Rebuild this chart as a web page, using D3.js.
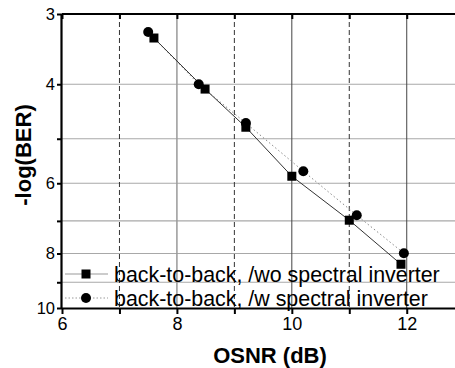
<!DOCTYPE html>
<html>
<head>
<meta charset="utf-8">
<script src="https://cdn.jsdelivr.net/npm/d3@7"></script>
<style>
  body { margin: 0; background: #fff; }
  svg { display: block; font-family: "Liberation Sans", Arial, sans-serif; }
</style>
</head>
<body>
<svg id="plot" width="455" height="368"></svg>
<script>
// OSNR (dB) on x, -log(BER) on a log axis
const osnr_wo = [7.6, 8.49, 9.2, 10.0, 11.0, 11.9];
const ber_wo = [3.31, 4.08, 4.77, 5.83, 6.98, 8.36];
const osnr_w = [7.5, 8.38, 9.2, 10.2, 11.13, 11.95];
const ber_w = [3.23, 4.0, 4.69, 5.71, 6.84, 7.99];
const x_ticks = [6, 7, 8, 9, 10, 11, 12];
const y_ticks = [3, 4, 5, 6, 7, 8, 9, 10];
const y_labels = [3, 4, 6, 8, 10];
const series_names = ["back-to-back, /wo spectral inverter", "back-to-back, /w spectral inverter"];

const svg = d3.select("#plot");
const m_left = 62, m_top = 14, m_bottom = 308, m_right = 455;

const x = d3.scaleLinear().domain([6, 12.84]).range([m_left, m_right]);
const y = d3.scaleLog().domain([3, 10]).range([m_top, m_bottom]);

// grid lines
svg.append("g").selectAll("line").data(y_ticks.filter(d => d > 3 && d < 10)).enter()
  .append("line")
  .attr("x1", m_left).attr("x2", m_right)
  .attr("y1", d => y(d)).attr("y2", d => y(d))
  .attr("stroke", "#a8a8a8").attr("stroke-width", 1.2);

svg.append("g").selectAll("line").data(x_ticks.filter(d => d > 6)).enter()
  .append("line")
  .attr("x1", d => x(d)).attr("x2", d => x(d))
  .attr("y1", m_top).attr("y2", m_bottom)
  .attr("stroke", d => d % 2 ? "#333" : (d == 8 ? "#999" : "#444"))
  .attr("stroke-width", d => d == 8 ? 1.5 : 1)
  .attr("stroke-dasharray", d => d % 2 ? "5,3" : null);

// axes
const font_y = 16.5, font_x = 18;
const ax_left = svg.append("g").attr("transform", `translate(${m_left},0)`)
  .call(d3.axisLeft(y).tickValues(y_ticks).tickSize(5).tickPadding(2)
    .tickFormat(d => y_labels.includes(d) ? d : ""));
const ax_bottom = svg.append("g").attr("transform", `translate(0,${m_bottom})`)
  .call(d3.axisBottom(x).tickValues(x_ticks).tickSize(6).tickPadding(3)
    .tickFormat(d => d % 2 ? "" : d));
const ax_top = svg.append("g").attr("transform", `translate(0,${m_top})`)
  .call(d3.axisBottom(x).tickValues(x_ticks).tickSize(5).tickFormat(""));

for (const ax of [ax_left, ax_bottom, ax_top]) {
  ax.select(".domain").attr("stroke", "#000").attr("stroke-width", 2.2);
  ax.selectAll(".tick line").attr("stroke", "#000").attr("stroke-width", 2);
  ax.selectAll("text").attr("fill", "#000").attr("font-family", "Liberation Sans, Arial, sans-serif");
}
ax_left.select(".domain").attr("d", `M-0.5,${m_top}V${m_bottom}`);
ax_bottom.select(".domain").attr("d", `M${m_left},0.5H${m_right}`);
ax_top.select(".domain").attr("d", `M${m_left},0H${m_right}`);
ax_left.selectAll("text").attr("font-size", font_y);
ax_bottom.selectAll("text").attr("font-size", font_x);

// axis titles
svg.append("text").attr("x", 270).attr("y", 363)
  .attr("text-anchor", "middle").attr("font-weight", "bold").attr("font-size", 22)
  .text("OSNR (dB)");
svg.append("text").attr("transform", "translate(31,155) rotate(-90)")
  .attr("text-anchor", "middle").attr("font-weight", "bold").attr("font-size", 22)
  .text("-log(BER)");

// series
const wo = osnr_wo.map((v, i) => [v, ber_wo[i]]);
const w = osnr_w.map((v, i) => [v, ber_w[i]]);
const line = d3.line().x(d => x(d[0])).y(d => y(d[1]));

svg.append("path").datum(w).attr("d", line)
  .attr("fill", "none").attr("stroke", "#888").attr("stroke-width", 1)
  .attr("stroke-dasharray", "1.5,2.5");
svg.append("path").datum(wo).attr("d", line)
  .attr("fill", "none").attr("stroke", "#333").attr("stroke-width", 1);

svg.append("g").selectAll("rect").data(wo).enter()
  .append("rect")
  .attr("x", d => x(d[0]) - 4.5).attr("y", d => y(d[1]) - 4.5)
  .attr("width", 9).attr("height", 9).attr("fill", "#000");
svg.append("g").selectAll("circle").data(w).enter()
  .append("circle")
  .attr("cx", d => x(d[0])).attr("cy", d => y(d[1]))
  .attr("r", 5).attr("fill", "#000");

// legend
const legend = svg.append("g");
const rows = [274, 298];
rows.forEach((ry, i) => {
  legend.append("line").attr("x1", 65).attr("x2", 108).attr("y1", ry).attr("y2", ry)
    .attr("stroke", i ? "#999" : "#ccc").attr("stroke-width", i ? 1 : 2)
    .attr("stroke-dasharray", i ? "1.5,2" : null);
  if (i == 0) {
    legend.append("rect").attr("x", 81.5).attr("y", ry - 4.5).attr("width", 9).attr("height", 9).attr("fill", "#000");
  } else {
    legend.append("circle").attr("cx", 86).attr("cy", ry).attr("r", 5).attr("fill", "#000");
  }
  legend.append("text").attr("x", 114).attr("y", ry + 7.5)
    .attr("font-size", 21.4).attr("fill", "#000")
    .text(series_names[i]);
});
</script>
</body>
</html>
